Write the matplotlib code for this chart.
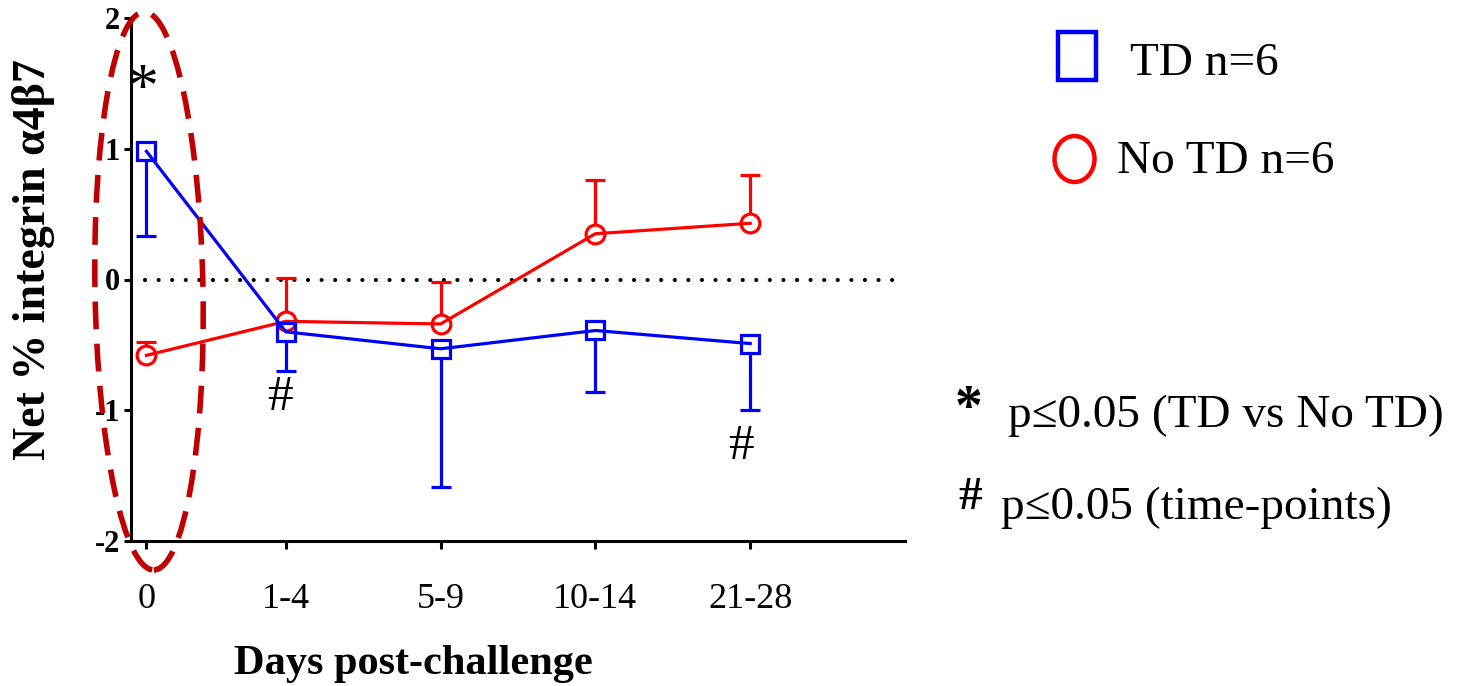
import matplotlib
matplotlib.use("Agg")
import matplotlib.pyplot as plt
from matplotlib.patches import Ellipse, Rectangle
import numpy as np

# data
groups = ["0", "1-4", "5-9", "10-14", "21-28"]
x_pos = [0, 0.9, 1.9, 2.9, 3.9]

td_mean = [0.98, -0.40, -0.53, -0.39, -0.49]
td_err_low = [0.65, 0.30, 1.06, 0.47, 0.51]

notd_mean = [-0.58, -0.32, -0.34, 0.35, 0.43]
notd_err_up = [0.10, 0.33, 0.32, 0.41, 0.37]

plt.rcParams['font.family'] = ['Liberation Serif', 'DejaVu Serif']

W, H = 1464, 686
fig = plt.figure(figsize=(W / 100, H / 100), dpi=100)
ax = fig.add_axes([131 / W, 1 - 541 / H, (905 - 131) / W, (541 - 18) / H])
ax.set_xlim(-0.1, 4.9)
ax.set_ylim(-2, 2)

blue = '#0000ff'
red = '#ff0000'
ms = 13.5
lw = 2.3

# half a marker in data units, so the error stems start at the marker edge
ax_h_px = 541 - 18
half = (ms / 2) * 100 / 72 * 4 / ax_h_px

x = np.array(x_pos)
tdm = np.array(td_mean)
tde = np.array(td_err_low)
ntm = np.array(notd_mean)
nte = np.array(notd_err_up)

ax.vlines(x, tdm - half, tdm - tde, color=blue, lw=lw, zorder=2)
ax.plot(x, tdm - tde, ls='none', marker='_', ms=14, mew=lw, color=blue, zorder=2)
ax.vlines(x, ntm + half, ntm + nte, color=red, lw=lw, zorder=2)
ax.plot(x, ntm + nte, ls='none', marker='_', ms=14, mew=lw, color=red, zorder=2)

ax.plot(x, ntm, color=red, lw=lw, marker='o', ms=ms, mfc='none', mew=lw, zorder=3)
ax.plot(x, tdm, color=blue, lw=lw, marker='s', ms=ms, mfc='none', mew=lw, zorder=4)

ax.axhline(0, xmin=0.018, xmax=0.986, color='black', lw=3.0,
           ls=(0, (0.01, 3.25)), dash_capstyle='round', zorder=1)

for s in ['top', 'right']:
    ax.spines[s].set_visible(False)
for s in ['left', 'bottom']:
    ax.spines[s].set_linewidth(2.2)

ax.set_xticks(x_pos)
ax.set_xticklabels(groups, fontsize=26)
ax.set_yticks([-2, -1, 0, 1, 2])
ax.set_yticklabels(['-2', '-1', '0', '1', '2'], fontsize=22, fontweight='bold')
ax.tick_params(axis='x', length=6, width=2.2, pad=24)
ax.tick_params(axis='y', length=5, width=2.2, pad=3)

def fx(px):
    return px / W

def fy(py):
    return 1 - py / H

fig.text(fx(413), fy(664), "Days post-challenge", fontsize=30.5, fontweight='bold',
         ha='center', va='center')
fig.text(fx(34), fy(260), "Net % integrin α4β7", fontsize=33, fontweight='bold',
         ha='center', va='center', rotation=90)

# significance marks
fig.text(fx(143), fy(92), "*", fontsize=46, ha='center', va='center')
fig.text(fx(280), fy(398), "#", fontsize=37, ha='center', va='center')
fig.text(fx(741), fy(447), "#", fontsize=37, ha='center', va='center')

# dashed ellipse around day 0
ell = Ellipse((1.49, (H - 291) / 100), 1.08, 5.58, angle=1,
              transform=fig.dpi_scale_trans, fill=False, ec='#c00000',
              lw=4, ls=(0, (5, 2.6)), clip_on=False)
fig.add_artist(ell)

# legend
rect = Rectangle((10.58, (H - 80) / 100), 0.38, 0.48, transform=fig.dpi_scale_trans,
                 fill=False, ec=blue, lw=3.2)
fig.add_artist(rect)
circ = Ellipse((10.745, (H - 159) / 100), 0.40, 0.46, transform=fig.dpi_scale_trans,
               fill=False, ec=red, lw=3.2)
fig.add_artist(circ)
fig.text(fx(1130), fy(64), "TD n=6", fontsize=34, ha='left', va='center')
fig.text(fx(1117), fy(162), "No TD n=6", fontsize=34, ha='left', va='center')

fig.text(fx(969), fy(410), "*", fontsize=40, fontweight='bold', ha='center', va='center')
fig.text(fx(1008), fy(416), "p≤0.05 (TD vs No TD)", fontsize=34, ha='left', va='center')
fig.text(fx(970), fy(498), "#", fontsize=34, fontweight='bold', ha='center', va='center')
fig.text(fx(1001), fy(508), "p≤0.05 (time-points)", fontsize=34, ha='left', va='center')

fig.savefig("out.png", dpi=100)
